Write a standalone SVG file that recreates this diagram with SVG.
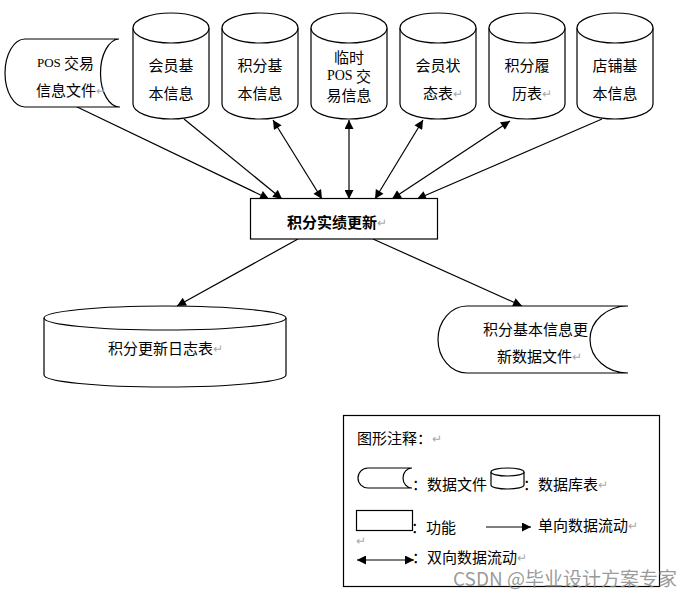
<svg xmlns="http://www.w3.org/2000/svg" width="700" height="593" viewBox="0 0 700 593">
<style>
.s{fill:#fff;stroke:#000;stroke-width:1.2}
.n{fill:none;stroke:#000;stroke-width:1.2}
.t{font-family:"Noto Sans CJK SC","Liberation Sans",sans-serif;font-size:15px;fill:#000;dominant-baseline:central}
.c{text-anchor:middle}
.p{fill:#aaa;font-size:12px}
.e{font-family:"Liberation Serif","Noto Sans CJK SC",serif}
.l{stroke:#000;stroke-width:1.2;fill:none}
.a{marker-end:url(#ah)}
.b{marker-end:url(#ah);marker-start:url(#ah)}
</style>
<defs>
<marker id="ah" viewBox="0 0 10 10" refX="10" refY="5" markerWidth="11" markerHeight="9" markerUnits="userSpaceOnUse" orient="auto-start-reverse">
<path d="M0,0 L10,5 L0,10 Z" fill="#000"/>
</marker>
</defs>
<rect width="700" height="593" fill="#fff"/>

<g id="connectors">
<line class="l a" x1="73" y1="105" x2="269" y2="199"/>
<line class="l a" x1="184" y1="119" x2="282" y2="199"/>
<line class="l b" x1="273" y1="120" x2="322" y2="199"/>
<line class="l b" x1="349" y1="120" x2="349" y2="199"/>
<line class="l b" x1="423" y1="120" x2="375" y2="199"/>
<line class="l b" x1="510" y1="121" x2="392" y2="199"/>
<line class="l a" x1="602" y1="119" x2="417" y2="199"/>
<line class="l a" x1="298" y1="239" x2="177" y2="306"/>
<line class="l a" x1="373" y1="239" x2="522" y2="306"/>
</g>

<g id="pos-file">
<path class="s" d="M25,39 L119,39 A19,34 0 0 0 120,107 L25,107 A20,34 0 0 1 25,39 Z"/>
<text class="t" x="37" y="62"><tspan class="e" font-size="13">POS </tspan>交易</text>
<text class="t" x="36" y="89">信息文件<tspan class="p">↵</tspan></text>
</g>

<g id="member-info">
<path class="s" d="M133,28 L133,104 A38,15 0 0 0 209,104 L209,28"/>
<ellipse class="s" cx="171" cy="28" rx="38" ry="15"/>
<text class="t c" x="171" y="64">会员基</text>
<text class="t c" x="171" y="92">本信息</text>
</g>

<g id="points-info">
<path class="s" d="M222,28 L222,104 A38,15 0 0 0 298,104 L298,28"/>
<ellipse class="s" cx="260" cy="28" rx="38" ry="15"/>
<text class="t c" x="260" y="64">积分基</text>
<text class="t c" x="260" y="92">本信息</text>
</g>

<g id="temp-pos">
<path class="s" d="M311,28 L311,104 A38,15 0 0 0 387,104 L387,28"/>
<ellipse class="s" cx="349" cy="28" rx="38" ry="15"/>
<text class="t c" x="349" y="56" font-size="13">临时</text>
<text class="t c" x="349" y="75" font-size="13"><tspan class="e" font-size="14">POS</tspan> 交</text>
<text class="t c" x="349" y="94" font-size="13">易信息</text>
</g>

<g id="member-status">
<path class="s" d="M400,28 L400,104 A38,15 0 0 0 476,104 L476,28"/>
<ellipse class="s" cx="438" cy="28" rx="38" ry="15"/>
<text class="t c" x="438" y="64">会员状</text>
<text class="t" x="423" y="92">态表<tspan class="p">↵</tspan></text>
</g>

<g id="points-history">
<path class="s" d="M489,28 L489,104 A38,15 0 0 0 565,104 L565,28"/>
<ellipse class="s" cx="527" cy="28" rx="38" ry="15"/>
<text class="t c" x="527" y="64">积分履</text>
<text class="t" x="512" y="92">历表<tspan class="p">↵</tspan></text>
</g>

<g id="shop-info">
<path class="s" d="M577,28 L577,104 A38,15 0 0 0 653,104 L653,28"/>
<ellipse class="s" cx="615" cy="28" rx="38" ry="15"/>
<text class="t c" x="615" y="64">店铺基</text>
<text class="t c" x="615" y="92">本信息</text>
</g>

<g id="update">
<rect class="s" x="250.5" y="198.5" width="187" height="40.5"/>
<text class="t" x="287" y="221" font-size="18" font-weight="bold">积分实绩更新<tspan class="p" font-weight="normal">↵</tspan></text>
</g>

<g id="log-table">
<path class="s" d="M44,318 L44,375 A121,12 0 0 0 286,375 L286,318"/>
<ellipse class="s" cx="165" cy="318" rx="121" ry="12"/>
<text class="t" x="108" y="347" font-size="16">积分更新日志表<tspan class="p">↵</tspan></text>
</g>

<g id="update-file">
<path class="s" d="M467,306 L628,306 A38,33.5 0 0 0 628,373 L467,373 A29,33.5 0 0 1 467,306 Z"/>
<text class="t" x="483" y="328" font-size="14">积分基本信息更</text>
<text class="t" x="497" y="355" font-size="14">新数据文件<tspan class="p">↵</tspan></text>
</g>

<g id="legend">
<rect class="s" x="343.5" y="415.5" width="316" height="171"/>
<text class="t" x="357" y="437">图形注释：<tspan class="p">↵</tspan></text>
<path class="s" d="M368,468 L412,468 A9,10 0 0 0 412,488 L368,488 A10,10 0 0 1 368,468 Z"/>
<text class="t" x="412" y="483">：数据文件</text>
<path class="s" d="M491,472 L491,485 A16.5,4 0 0 0 524,485 L524,472"/>
<ellipse class="s" cx="507.5" cy="472" rx="16.5" ry="4"/>
<text class="t" x="523" y="483">：数据库表<tspan class="p">↵</tspan></text>
<rect class="s" x="356.5" y="510.5" width="56" height="20"/>
<text class="t" x="411" y="526">：功能</text>
<text class="t p" x="356" y="539">↵</text>
<line class="l a" x1="486" y1="527" x2="531" y2="527"/>
<text class="t" x="538" y="524">单向数据流动<tspan class="p">↵</tspan></text>
<line class="l b" x1="357" y1="560" x2="414" y2="560"/>
<text class="t" x="412" y="556">：双向数据流动<tspan class="p">↵</tspan></text>
</g>

<text x="453" y="577" font-family="'Noto Sans CJK SC','Liberation Sans',sans-serif" font-size="19" fill="#888" fill-opacity="0.85" dominant-baseline="central">CSDN @毕业设计方案专家</text>
</svg>
